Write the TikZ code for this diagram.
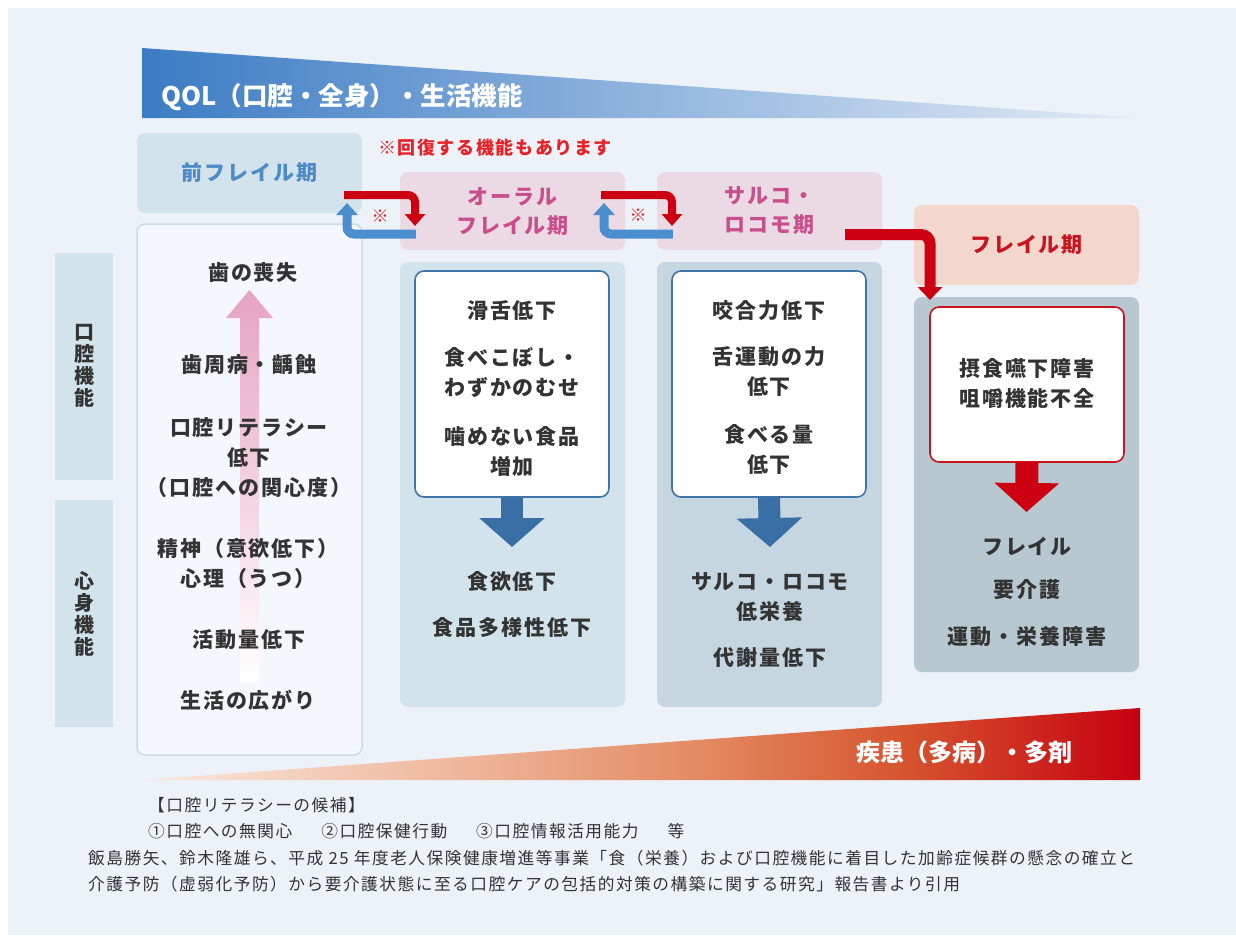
\documentclass[tikz,border=0pt]{standalone}
\usepackage{fontspec}
\newfontfamily\jp{Noto Sans CJK JP}[LetterSpace=9]
\newfontfamily\jpf{Noto Sans CJK JP}[LetterSpace=9]
\newfontfamily\jpn{Noto Sans CJK JP}
\usetikzlibrary{arrows.meta,calc}
\definecolor{bg}{HTML}{EDF2F9}
\definecolor{txt}{HTML}{333333}
\definecolor{paleblue}{HTML}{D2E3EC}
\definecolor{midblue}{HTML}{C5D6E0}
\definecolor{darkpanel}{HTML}{B7C8D1}
\definecolor{prefont}{HTML}{4D8AC6}
\definecolor{pinkhead}{HTML}{EBDAE3}
\definecolor{pinkfont}{HTML}{C84E8C}
\definecolor{peach}{HTML}{F3D6CC}
\definecolor{redA}{HTML}{CC0010}
\definecolor{redT}{HTML}{C8141E}
\definecolor{redN}{HTML}{E62228}
\definecolor{boxblue}{HTML}{3F74A8}
\definecolor{arrblue}{HTML}{3A6FA5}
\definecolor{recblue}{HTML}{4B8ECE}
\definecolor{pinkarrow}{HTML}{E6A3C1}
\definecolor{qolL}{HTML}{3C7CC4}
\definecolor{qolM}{HTML}{86AADB}
\definecolor{qolR}{HTML}{E4ECF7}
\definecolor{disA}{HTML}{FAE8DF}
\definecolor{disB}{HTML}{EDB396}
\definecolor{disC}{HTML}{E38A63}
\definecolor{disD}{HTML}{D6562F}
\definecolor{disE}{HTML}{C60010}
\definecolor{leftline}{HTML}{CADCE8}
\pgfdeclarehorizontalshading{disshade}{100bp}{color(0bp)=(disA); color(25bp)=(disA); color(42bp)=(disB); color(53bp)=(disC); color(63bp)=(disD); color(75bp)=(disE); color(100bp)=(disE)}
\begin{document}
\begin{tikzpicture}[x=1pt,y=-1pt,
  panel/.style={rectangle, rounded corners=8pt, inner sep=0pt, draw=none},
  body/.style={font=\jp\bfseries\fontsize{21}{30}\selectfont, text=txt, align=center, inner sep=0pt},
  head/.style={font=\jp\bfseries\fontsize{21}{29}\selectfont, align=center},
  whitebox/.style={rectangle, rounded corners=9pt, fill=white, line width=1.6pt, minimum width=194pt},
  recred/.style={draw=redA, line width=8pt, rounded corners=7pt, -{Triangle[width=20pt,length=12pt]}},
  recblu/.style={draw=recblue, line width=9pt, rounded corners=7pt, -{Triangle[width=21pt,length=12pt]}},
  kome/.style={font=\jpn\bfseries\fontsize{17}{17}\selectfont, text=redN, inner sep=0pt},
  foot/.style={font=\jpf\fontsize{16.7}{18}\selectfont, text=txt, anchor=west, inner sep=0pt}
]
\useasboundingbox (0,0) rectangle (1236,935);
\fill[white] (0,0) rectangle (1236,935);
\fill[bg] (8,8) rectangle (1236,935);

% banners
\shade[left color=qolL, middle color=qolM, right color=qolR] (142,48) -- (1140,118) -- (142,118) -- cycle;
\node[font=\jpn\bfseries\fontsize{25.5}{25.5}\selectfont, text=white, anchor=west, inner sep=0pt] (qol) at (161,97) {QOL（口腔・全身）・生活機能};
\shade[shading=disshade] (142,780) -- (1140,708) -- (1140,780) -- cycle;
\node[font=\jpn\bfseries\fontsize{24}{24}\selectfont, text=white, inner sep=0pt] (dis) at (964,752) {疾患（多病）・多剤};

% left column
\node[panel, fill=paleblue, minimum width=225pt, minimum height=80pt, head, text=prefont] (pre) at (249.5,173) {前フレイル期};
\node[panel, fill=bg!60!white, draw=leftline, line width=1.5pt, minimum width=225pt, minimum height=531pt] (lbox) at (249.5,489.5) {};
\node[panel, rounded corners=0pt, fill=paleblue, minimum width=58pt, minimum height=227pt] (lab1) at (84,366.5) {};
\node[panel, rounded corners=0pt, fill=paleblue, minimum width=58pt, minimum height=227pt] (lab2) at (84,613.5) {};
\node[font=\jpn\bfseries\fontsize{20}{22}\selectfont, text=txt, align=center, inner sep=0pt] (lab1t) at (84,366) {口\\腔\\機\\能};
\node[font=\jpn\bfseries\fontsize{20}{22}\selectfont, text=txt, align=center, inner sep=0pt] (lab2t) at (84,614) {心\\身\\機\\能};

% pink arrow
\shade[top color=pinkarrow, bottom color=white] (240,682) -- (240,318) -- (226,318) -- (249.5,290) -- (273,318) -- (259,318) -- (259,682) -- cycle;

\node[body] (l1) at (253,273) {歯の喪失};
\node[body] (l2) at (249,365) {歯周病・齲蝕};
\node[body] (l3) at (249,457.5) {口腔リテラシー\\低下\\（口腔への関心度）};
\node[body] (l4) at (248,564) {精神（意欲低下）\\心理（うつ）};
\node[body] (l5) at (249,640) {活動量低下};
\node[body] (l6) at (248,700) {生活の広がり};

% stage headers
\node[font=\jpf\bfseries\fontsize{18}{18}\selectfont, text=redN, inner sep=0pt] (note) at (495,148) {※回復する機能もあります};
\node[panel, fill=pinkhead, minimum width=225pt, minimum height=78pt, head, text=pinkfont] (oralH) at (512.5,211) {オーラル\\フレイル期};
\node[panel, fill=pinkhead, minimum width=225pt, minimum height=78pt, head, text=pinkfont] (sarcoH) at (769.5,211) {サルコ・\\ロコモ期};
\node[panel, fill=peach, minimum width=225pt, minimum height=80pt, head, text=redT] (frailH) at (1026.5,245) {フレイル期};

% panels
\node[panel, fill=paleblue, minimum width=225pt, minimum height=445pt] (oralP) at (512.5,484.5) {};
\node[panel, fill=midblue, minimum width=225pt, minimum height=445pt] (sarcoP) at (769.5,484.5) {};
\node[panel, fill=darkpanel, minimum width=225pt, minimum height=375pt] (frailP) at (1026.5,484.5) {};

% block arrows
\coordinate (oa) at (512,547);
\coordinate (sa) at (770,547);
\coordinate (fa) at (1026.5,512);
\node[whitebox, draw=boxblue, minimum height=226pt] (oralB) at (512,384) {};
\node[whitebox, draw=boxblue, minimum height=226pt] (sarcoB) at (769,384) {};
\node[whitebox, draw=redT, minimum height=155pt] (frailB) at (1027,384.5) {};
\draw[arrblue, line width=22pt, -{Triangle[width=64pt,length=29pt]}] ([yshift=0.8pt]oralB.south) -- (oa);
\draw[arrblue, line width=22pt, -{Triangle[width=64pt,length=29pt]}] ([yshift=0.8pt]sarcoB.south) -- (sa);
\draw[redA, line width=23pt, -{Triangle[width=63pt,length=29pt]}] ([yshift=0.8pt]frailB.south) -- (fa);

% box texts
\node[body] (o1) at (512,311) {滑舌低下};
\node[body] (o2) at (512,372.5) {食べこぼし・\\わずかのむせ};
\node[body] (o3) at (512,451) {噛めない食品\\増加};
\node[body] (o4) at (512,581) {食欲低下};
\node[body] (o5) at (512,627) {食品多様性低下};

\node[body] (s1) at (769,311) {咬合力低下};
\node[body] (s2) at (769,371) {舌運動の力\\低下};
\node[body] (s3) at (769,449) {食べる量\\低下};
\node[body] (s4) at (770,597.5) {サルコ・ロコモ\\低栄養};
\node[body] (s5) at (770,658) {代謝量低下};

\node[body] (f1) at (1027,383) {摂食嚥下障害\\咀嚼機能不全};
\node[body] (f2) at (1027,546) {フレイル};
\node[body] (f3) at (1027,590) {要介護};
\node[body] (f4) at (1027,637) {運動・栄養障害};

% recovery arrows
\coordinate (r1s) at ($(pre.east)+(-18,22)$);
\coordinate (r1k) at (415,195);
\coordinate (r1e) at (415,226);
\coordinate (b1s) at ($(oralH.west)+(16,23)$);
\coordinate (b1k) at (347,234);
\coordinate (b1e) at (347,203);
\draw[recblu] (b1s) -- (b1k) -- (b1e);
\draw[recred] (r1s) -- (r1k) -- (r1e);
\node[kome] (k1) at (380,216) {※};

\coordinate (r2s) at ($(oralH.east)+(-24,-16)$);
\coordinate (r2k) at (672,195);
\coordinate (r2e) at (672,226);
\coordinate (b2s) at ($(sarcoH.west)+(16,23)$);
\coordinate (b2k) at (604,234);
\coordinate (b2e) at (604,203);
\draw[recblu] (b2s) -- (b2k) -- (b2e);
\draw[recred] (r2s) -- (r2k) -- (r2e);
\node[kome] (k2) at (638,215) {※};

% big red arrow to frailty
\coordinate (f1s) at ($(sarcoH.east)+(-37,23.5)$);
\coordinate (f1k) at (930,234.5);
\coordinate (f1e) at (930,300);
\draw[draw=redA, line width=11pt, rounded corners=9pt, -{Triangle[width=24pt,length=13pt]}] (f1s) -- (f1k) -- (f1e);

% footnotes
\node[foot] (n1) at (148,805) {【口腔リテラシーの候補】};
\node[foot] (n2) at (148,831) {①口腔への無関心\hspace{29pt}②口腔保健行動\hspace{29pt}③口腔情報活用能力\hspace{29pt}等};
\node[foot] (n3) at (88,858) {飯島勝矢、鈴木隆雄ら、平成 25 年度老人保険健康増進等事業「食（栄養）および口腔機能に着目した加齢症候群の懸念の確立と};
\node[foot] (n4) at (88,884) {介護予防（虚弱化予防）から要介護状態に至る口腔ケアの包括的対策の構築に関する研究」報告書より引用};
\end{tikzpicture}
\end{document}
